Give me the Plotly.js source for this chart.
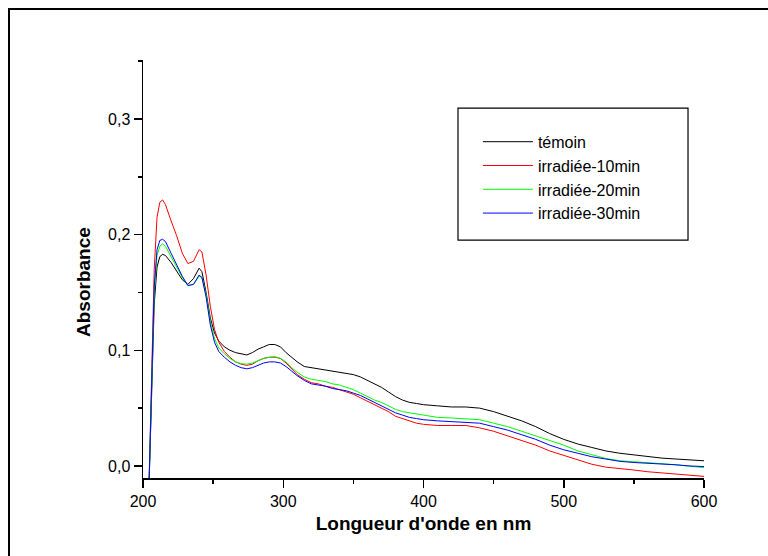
<!DOCTYPE html>
<html>
<head>
<meta charset="utf-8">
<script src="https://cdn.plot.ly/plotly-3.0.1.min.js"></script>
<style>
  html, body { margin: 0; padding: 0; background: #fff; }
  #wrap { position: relative; width: 768px; height: 556px; overflow: hidden; }
  #chart { position: absolute; left: 0; top: 0; width: 768px; height: 556px; }
  #frame { position: absolute; left: 8px; top: 8px; width: 820px; height: 620px;
           border-left: 2px solid #000; border-top: 2px solid #000; pointer-events: none; }
</style>
</head>
<body>
<div id="wrap">
  <div id="chart"></div>
  <div id="frame"></div>
</div>
<script>
// Wavelength (nm)
const wavelength = [204,206,208,210,212,214,216,220,224,228,232,236,240,242,245,248,251,254,258,262,266,270,274,278,282,286,290,294,298,302,306,310,315,320,325,330,335,340,345,350,355,360,365,370,375,380,385,390,395,400,410,420,430,440,450,460,470,480,490,500,510,520,530,540,550,560,570,580,590,600];

// Absorbance series
const temoin = [-0.03,0.05,0.14,0.172,0.181,0.183,0.182,
  0.176,0.168,0.161,0.157,0.162,0.171,
  0.168,0.150,0.128,0.115,0.108,0.103,
  0.100,0.098,0.097,0.096,0.098,0.101,
  0.103,0.105,0.105,0.103,0.098,0.094,
  0.090,0.086,0.085,0.084,0.083,0.082,
  0.081,0.080,0.079,0.077,0.074,0.071,
  0.068,0.064,0.060,0.057,0.055,0.054,
  0.053,0.052,0.051,0.051,0.050,0.047,
  0.043,0.039,0.034,0.028,0.023,0.019,
  0.016,0.013,0.011,0.0095,0.008,0.0068,
  0.006,0.0052,0.0045];

const irr10 = [-0.03,0.07,0.17,0.215,0.228,0.230,0.226,
  0.212,0.199,0.184,0.175,0.177,0.187,
  0.185,0.165,0.138,0.118,0.107,0.099,
  0.094,0.090,0.088,0.087,0.088,0.091,
  0.093,0.094,0.094,0.093,0.089,0.084,
  0.079,0.075,0.072,0.071,0.069,0.068,
  0.066,0.064,0.062,0.059,0.056,0.053,
  0.050,0.047,0.043,0.041,0.039,0.037,
  0.036,0.035,0.035,0.035,0.033,0.030,
  0.026,0.022,0.018,0.013,0.009,0.005,
  0.0015,-0.001,-0.002,-0.0035,-0.005,-0.006,
  -0.0065,-0.0075,-0.009];

const irr20 = [-0.03,0.06,0.15,0.182,0.190,0.192,0.190,
  0.181,0.172,0.163,0.156,0.157,0.164,
  0.163,0.148,0.125,0.110,0.102,0.097,
  0.093,0.090,0.0885,0.088,0.089,0.091,
  0.093,0.094,0.0945,0.093,0.090,0.085,
  0.081,0.077,0.075,0.074,0.073,0.071,
  0.070,0.068,0.066,0.063,0.060,0.057,
  0.055,0.052,0.049,0.047,0.046,0.045,
  0.044,0.042,0.0415,0.041,0.040,0.037,
  0.034,0.030,0.026,0.022,0.018,0.013,
  0.0095,0.0065,0.0045,0.0038,0.003,0.002,
  0.001,0.0,-0.0015];

const irr30 = [-0.03,0.065,0.155,0.187,0.195,0.196,0.194,
  0.184,0.174,0.164,0.156,0.157,0.165,
  0.163,0.146,0.122,0.107,0.099,0.094,
  0.090,0.087,0.085,0.084,0.085,0.087,
  0.089,0.090,0.090,0.089,0.086,0.082,
  0.078,0.074,0.071,0.070,0.069,0.067,
  0.066,0.065,0.063,0.061,0.058,0.055,
  0.052,0.049,0.046,0.044,0.042,0.041,
  0.040,0.039,0.0385,0.038,0.037,0.034,
  0.031,0.027,0.023,0.018,0.014,0.011,
  0.008,0.006,0.004,0.003,0.0025,0.0018,
  0.001,0.0,-0.0005];

const seriesNames = ['témoin','irradiée-10min','irradiée-20min','irradiée-30min'];
const seriesColors = ['#000000','#ff0000','#00ff00','#0000ff'];
const seriesData = [temoin, irr10, irr20, irr30];

const xTickVals = [200,300,400,500,600];
const yTickVals = [0,0.1,0.2,0.3];

const traces = seriesData.map((ys, i) => ({
  x: wavelength, y: ys, type: 'scatter', mode: 'lines',
  name: seriesNames[i], line: {color: seriesColors[i], width: 1}
}));

const font = 'Arial, "Liberation Sans", sans-serif';

const layout = {
  width: 768, height: 556,
  margin: {l: 143, r: 64, t: 60, b: 78},
  paper_bgcolor: '#fff', plot_bgcolor: '#fff',
  separators: ',.',
  showlegend: true,
  font: {family: font, color: '#000'},
  xaxis: {
    range: [200, 600], showgrid: false, zeroline: false,
    showline: true, linecolor: '#000', linewidth: 1.5,
    ticks: 'outside', ticklen: 8, tickwidth: 1.5, tickcolor: '#000',
    tickvals: xTickVals, tickfont: {family: font, size: 16, color: '#000'},
    minor: {dtick: 50, tick0: 200, ticks: 'outside', ticklen: 4, tickwidth: 1.5, tickcolor: '#000', showgrid: false},
    title: {text: "Longueur d'onde en nm", font: {family: font, size: 19, color: '#000', weight: 'bold'}, standoff: 8}
  },
  yaxis: {
    range: [-0.0104, 0.351], showgrid: false, zeroline: false,
    showline: true, linecolor: '#000', linewidth: 1.5,
    ticks: 'outside', ticklen: 8, tickwidth: 1.5, tickcolor: '#000',
    tickvals: yTickVals, tickformat: '.1f', tickfont: {family: font, size: 16, color: '#000'},
    minor: {dtick: 0.05, tick0: 0, ticks: 'outside', ticklen: 4, tickwidth: 1.5, tickcolor: '#000', showgrid: false},
    title: {text: ''}
  },
  annotations: [{
    text: 'Absorbance', xref: 'paper', yref: 'paper', x: 0, y: 0.469,
    xanchor: 'center', yanchor: 'middle', xshift: -59, textangle: -90, showarrow: false,
    font: {family: font, size: 19, color: '#000', weight: 'bold'}
  }],
  legend: {
    x: 0.597, y: 0.845, xanchor: 'left', yanchor: 'top',
    bgcolor: 'rgba(0,0,0,0)', borderwidth: 0,
    font: {family: font, size: 16, color: '#000'},
    itemwidth: 50, tracegroupgap: 0
  },
  shapes: [{
    type: 'rect', xref: 'paper', yref: 'paper',
    x0: 0.5615, x1: 0.9715, y0: 0.569, y1: 0.885,
    line: {color: '#000', width: 1.2}, fillcolor: 'rgba(0,0,0,0)'
  }]
};

Plotly.newPlot('chart', traces, layout, {displayModeBar: false, staticPlot: true});
</script>
</body>
</html>
